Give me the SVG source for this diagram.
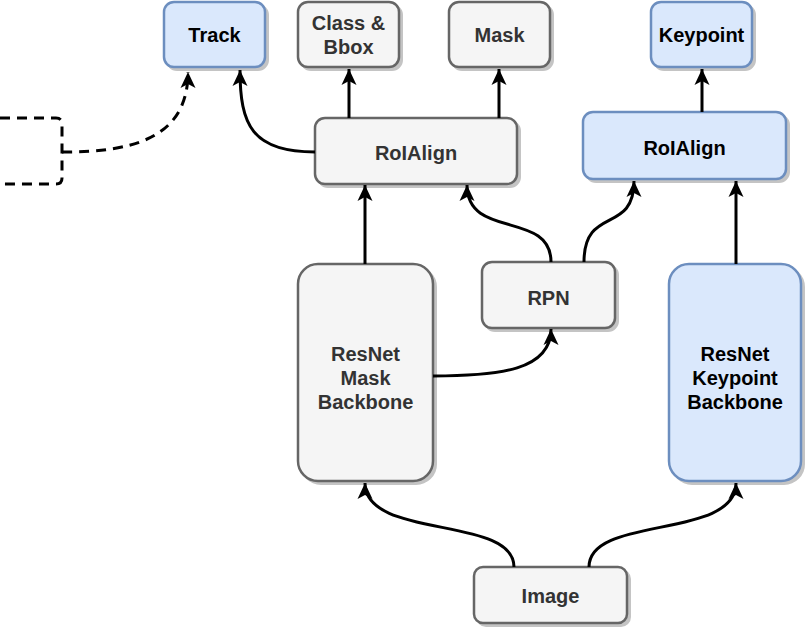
<svg xmlns="http://www.w3.org/2000/svg" width="810" height="631" viewBox="0 0 810 631">
<style>
.sh{fill:#c4c4c4;stroke:#c4c4c4;stroke-width:2}
.g{fill:#f5f5f5;stroke:#666666;stroke-width:2.5}
.b{fill:#dae8fc;stroke:#6c8ebf;stroke-width:2.5}
.t{font-family:"Liberation Sans",Arial,sans-serif;font-weight:bold;font-size:20px;text-anchor:middle}
.tg{fill:#333333}
.tb{fill:#000000}
.c{fill:none;stroke:#000;stroke-width:3}
.d{fill:none;stroke:#000;stroke-width:3;stroke-dasharray:10 7}
</style>
<defs>
<marker id="ah" markerUnits="userSpaceOnUse" markerWidth="20" markerHeight="20" refX="17" refY="7.5" orient="auto" viewBox="0 0 20 15">
<path d="M17,7.5 L1,0 L5,7.5 L1,15 Z" fill="#000"/>
</marker>
</defs>
<g id="external">
<path class="d" d="M0,118 L56,118 Q62,118 62,124 L62,178 Q62,184 56,184 L0,184"/>
</g>
<g id="track">
<rect class="sh" x="167" y="5" width="101" height="65" rx="10"/>
<rect class="b" x="164" y="2" width="101" height="65" rx="10"/>
<text class="t tb" x="214.5" y="42">Track</text>
</g>
<g id="classbbox">
<rect class="sh" x="301" y="5" width="101" height="65" rx="10"/>
<rect class="g" x="298" y="2" width="101" height="65" rx="10"/>
<text class="t tg" x="348.5" y="30">Class &amp;</text>
<text class="t tg" x="348.5" y="54">Bbox</text>
</g>
<g id="mask">
<rect class="sh" x="452" y="5" width="101" height="65" rx="10"/>
<rect class="g" x="449" y="2" width="101" height="65" rx="10"/>
<text class="t tg" x="499.5" y="42">Mask</text>
</g>
<g id="keypoint">
<rect class="sh" x="654" y="5" width="101" height="65" rx="10"/>
<rect class="b" x="651" y="2" width="101" height="65" rx="10"/>
<text class="t tb" x="701.5" y="42">Keypoint</text>
</g>
<g id="roialign-left">
<rect class="sh" x="318" y="121" width="202" height="66" rx="10"/>
<rect class="g" x="315" y="118" width="202" height="66" rx="10"/>
<text class="t tg" x="416" y="160">RoIAlign</text>
</g>
<g id="roialign-right">
<rect class="sh" x="586" y="115" width="203" height="67" rx="10"/>
<rect class="b" x="583" y="112" width="203" height="67" rx="10"/>
<text class="t tb" x="684.5" y="155">RoIAlign</text>
</g>
<g id="rpn">
<rect class="sh" x="485" y="265" width="133" height="66" rx="10"/>
<rect class="g" x="482" y="262" width="133" height="66" rx="10"/>
<text class="t tg" x="548.5" y="305">RPN</text>
</g>
<g id="resnet-mask">
<rect class="sh" x="301" y="267" width="135" height="217" rx="20"/>
<rect class="g" x="298" y="264" width="135" height="217" rx="20"/>
<text class="t tg" x="365.5" y="361">ResNet</text>
<text class="t tg" x="365.5" y="385">Mask</text>
<text class="t tg" x="365.5" y="409">Backbone</text>
</g>
<g id="resnet-keypoint">
<rect class="sh" x="672" y="267" width="132" height="217" rx="20"/>
<rect class="b" x="669" y="264" width="132" height="217" rx="20"/>
<text class="t tb" x="735" y="361">ResNet</text>
<text class="t tb" x="735" y="385">Keypoint</text>
<text class="t tb" x="735" y="409">Backbone</text>
</g>
<g id="image">
<rect class="sh" x="477" y="570" width="153" height="56" rx="9"/>
<rect class="g" x="474" y="567" width="153" height="56" rx="9"/>
<text class="t tg" x="550.5" y="603">Image</text>
</g>
<g id="connectors">
<path class="d" d="M62,152 C130,152 188,140 188,72" marker-end="url(#ah)"/>
<path class="c" d="M315,152 C252,152 240,125 240,70" marker-end="url(#ah)"/>
<path class="c" d="M349,118 L349,69" marker-end="url(#ah)"/>
<path class="c" d="M499,118 L499,69" marker-end="url(#ah)"/>
<path class="c" d="M702,112 L702,69" marker-end="url(#ah)"/>
<path class="c" d="M365,264 L365,185" marker-end="url(#ah)"/>
<path class="c" d="M736,264 L736,181" marker-end="url(#ah)"/>
<path class="c" d="M551,262 C551,210 467,240 467,185" marker-end="url(#ah)"/>
<path class="c" d="M584,262 C584,205 634,235 634,181" marker-end="url(#ah)"/>
<path class="c" d="M433,376 C500,376 551,370 551,329" marker-end="url(#ah)"/>
<path class="c" d="M514,567 C514,515 365,540 365,483" marker-end="url(#ah)"/>
<path class="c" d="M589,567 C589,515 736,540 736,483" marker-end="url(#ah)"/>
</g>
</svg>
